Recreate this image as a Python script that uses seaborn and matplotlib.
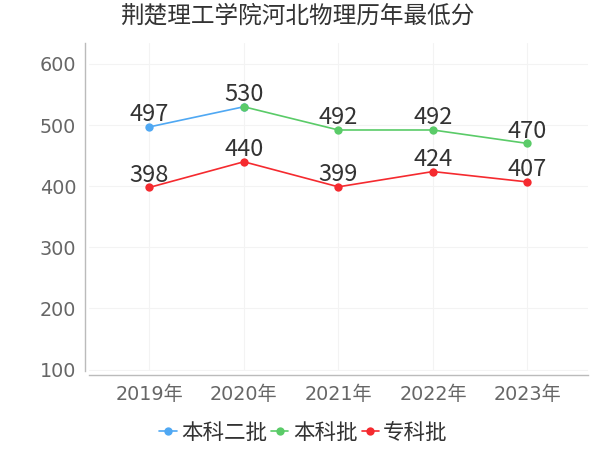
import numpy as np
import pandas as pd
import matplotlib
matplotlib.use("Agg")
import matplotlib.pyplot as plt
import seaborn as sns

years = ["2019年", "2020年", "2021年", "2022年", "2023年"]
yticks = [100, 200, 300, 400, 500, 600]
benke2 = [497, 530, np.nan, np.nan, np.nan]
benke = [np.nan, 530, 492, 492, 470]
zhuanke = [398, 440, 399, 424, 407]

series = {"本科二批": benke2, "本科批": benke, "专科批": zhuanke}
COLORS = {"本科二批": "#4fa8f3", "本科批": "#5acb68", "专科批": "#f52a2f"}

rows = []
for name, vals in series.items():
    for i, v in enumerate(vals):
        rows.append({"year": i, "score": v, "batch": name})
df = pd.DataFrame(rows)

sns.set_theme(style="white")
# ticks are drawn in DejaVu, everything else in Noto CJK
plt.rcParams["font.family"] = ["DejaVu Sans", "Noto Sans CJK SC"]
CJK = ["Noto Sans CJK SC", "DejaVu Sans"]

fig = plt.figure(figsize=(6, 4.5), dpi=100)
ax = fig.add_axes([0.148, 0.176, 0.832, 0.728])

for name in series:
    sub = df[df["batch"] == name].dropna()
    sns.lineplot(data=sub, x="year", y="score", color=COLORS[name], marker="o",
                 markersize=6, markeredgewidth=0, linewidth=1.2, label=name, ax=ax)


def label(x, y):
    ax.annotate(f"{int(y)}", xy=(x, y), xytext=(0, 4), textcoords="offset points",
                ha="center", va="baseline", fontsize=17, color="#333333", family=CJK)


# 2020 of 本科二批 sits under the 本科批 point, label it once
label(0, benke2[0])
for i, v in enumerate(benke):
    if not np.isnan(v):
        label(i, v)
for i, v in enumerate(zhuanke):
    label(i, v)

ax.set_xlim(-0.64, 4.64)
ax.set_ylim(98, 634)
ax.set_yticks(yticks)
ax.set_xticks(range(len(years)))
ax.set_xticklabels(years)
ax.tick_params(axis="both", labelsize=13.8, labelcolor="#666666")
ax.tick_params(axis="x", length=3, color="#bbbbbb", pad=4)
ax.tick_params(axis="y", length=0, pad=6)
ax.set_xlabel("")
ax.set_ylabel("")

ax.grid(True, color="#f3f3f3", linewidth=0.8)
for s in ["top", "right"]:
    ax.spines[s].set_visible(False)
for s in ["left", "bottom"]:
    ax.spines[s].set_color("#bbbbbb")
    ax.spines[s].set_linewidth(1.0)
ax.spines["left"].set_position(("outward", 3))
ax.spines["bottom"].set_position(("outward", 3))

ax.legend(loc="upper center", bbox_to_anchor=(0.43, -0.097), ncol=3, frameon=False,
          prop={"family": CJK, "size": 15.5}, handlelength=0.8, handletextpad=0.2,
          columnspacing=0.2, labelcolor="#333333")

fig.suptitle("荆楚理工学院河北物理历年最低分", x=0.495, y=0.99, fontsize=17,
             color="#333333", family=CJK)

fig.savefig("out.png", dpi=100, facecolor="white")
